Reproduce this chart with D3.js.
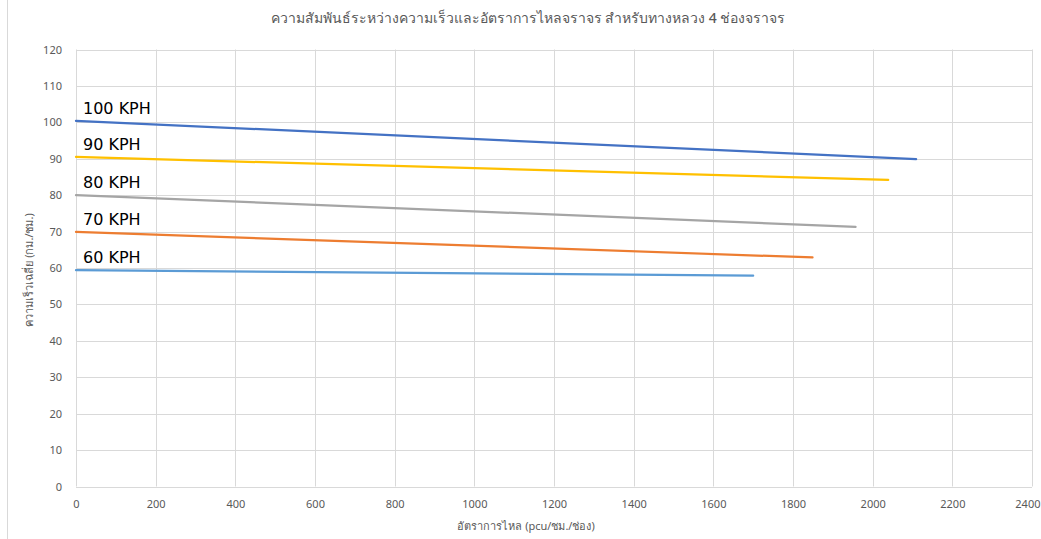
<!DOCTYPE html>
<html>
<head>
<meta charset="utf-8">
<script src="https://cdn.jsdelivr.net/npm/d3@7"></script>
<style>
  body { margin: 0; background: #fff; }
  svg { display: block; font-family: "Noto Sans", "Open Sans", sans-serif; }
</style>
</head>
<body>
<svg id="chart" width="1041" height="539"></svg>
<script>
// Speed-flow relationship for a 4-lane highway, one line per free-flow speed
const seriesNames = ["100 KPH", "90 KPH", "80 KPH", "70 KPH", "60 KPH"];
const flowPoints = [
  [0, 2109],
  [0, 2039],
  [0, 1957],
  [0, 1849],
  [0, 1700]
];
const speedPoints = [
  [100.4, 89.9],
  [90.5, 84.2],
  [80.0, 71.3],
  [69.9, 62.9],
  [59.4, 57.9]
];
const seriesColors = ["#4472C4", "#FFC000", "#A5A5A5", "#ED7D31", "#5B9BD5"];
const xTicks = [0, 200, 400, 600, 800, 1000, 1200, 1400, 1600, 1800, 2000, 2200, 2400];
const yTicks = [0, 10, 20, 30, 40, 50, 60, 70, 80, 90, 100, 110, 120];

const titleText = "ความสัมพันธ์ระหว่างความเร็วและอัตราการไหลจราจร สำหรับทางหลวง 4 ช่องจราจร";
const xTitle = "อัตราการไหล (pcu/ชม./ช่อง)";
const yTitle = "ความเร็วเฉลี่ย (กม./ชม.)";

const svg = d3.select("#chart");
const plot = { left: 76, right: 1032, top: 49.5, bottom: 486.5 };

const x = d3.scaleLinear().domain([0, 2400]).range([plot.left, plot.right]);
const y = d3.scaleLinear().domain([0, 120]).range([plot.bottom, plot.top]);

// chart area edge
svg.append("line")
  .attr("x1", 7.5).attr("x2", 7.5).attr("y1", 0).attr("y2", 539)
  .attr("stroke", "#d9d9d9").attr("stroke-width", 1);

// gridlines
const grid = svg.append("g");
grid.selectAll("line.h").data(yTicks).join("line")
  .attr("x1", plot.left).attr("x2", plot.right)
  .attr("y1", d => Math.round(y(d)) + 0.5).attr("y2", d => Math.round(y(d)) + 0.5)
  .attr("stroke", "#d9d9d9").attr("stroke-width", 1);
grid.selectAll("line.v").data(xTicks).join("line")
  .attr("y1", plot.top).attr("y2", plot.bottom)
  .attr("x1", d => Math.round(x(d)) + 0.5).attr("x2", d => Math.round(x(d)) + 0.5)
  .attr("stroke", "#d9d9d9").attr("stroke-width", 1);

// axes (labels only, lines come from the grid)
const fmt = d3.format("d");
const xAxis = d3.axisBottom(x).tickValues(xTicks).tickFormat(fmt).tickSize(0).tickPadding(14);
const yAxis = d3.axisLeft(y).tickValues(yTicks).tickFormat(fmt).tickSize(0).tickPadding(14);

const gx = svg.append("g").attr("transform", `translate(0,${plot.bottom})`).call(xAxis);
const gy = svg.append("g").attr("transform", `translate(${plot.left},0)`).call(yAxis);
[gx, gy].forEach(g => {
  g.select(".domain").remove();
  g.selectAll("text")
    .attr("fill", "#595959")
    .style("font-size", "11px")
    .style("font-family", "\"Noto Sans\", sans-serif");
});
// keep the last x label inside the canvas
gx.selectAll(".tick").filter(d => d === 2400).select("text")
  .attr("text-anchor", "end").attr("x", 8);

// series lines
const line = d3.line().x(d => x(d[0])).y(d => y(d[1]));
seriesNames.forEach((name, i) => {
  const pts = flowPoints[i].map((f, j) => [f, speedPoints[i][j]]);
  svg.append("path")
    .datum(pts)
    .attr("d", line)
    .attr("fill", "none")
    .attr("stroke", seriesColors[i])
    .attr("stroke-width", 2.25)
    .attr("stroke-linecap", "round");
  svg.append("text")
    .attr("x", x(flowPoints[i][0]) + 7)
    .attr("y", y(speedPoints[i][0]) - 7)
    .attr("fill", "#000")
    .style("font-size", "16px")
    .style("font-family", "\"DejaVu Sans\", sans-serif")
    .text(name);
});

// titles
svg.append("text")
  .attr("x", 528).attr("y", 23)
  .attr("text-anchor", "middle")
  .attr("fill", "#595959")
  .style("font-size", "14px")
  .style("font-weight", "500")
  .text(titleText);

svg.append("text")
  .attr("x", 526).attr("y", 530)
  .attr("text-anchor", "middle")
  .attr("fill", "#595959")
  .style("font-size", "11px")
  .text(xTitle);

svg.append("text")
  .attr("transform", "translate(33,270) rotate(-90)")
  .attr("text-anchor", "middle")
  .attr("fill", "#595959")
  .style("font-size", "11px")
  .text(yTitle);
</script>
</body>
</html>
